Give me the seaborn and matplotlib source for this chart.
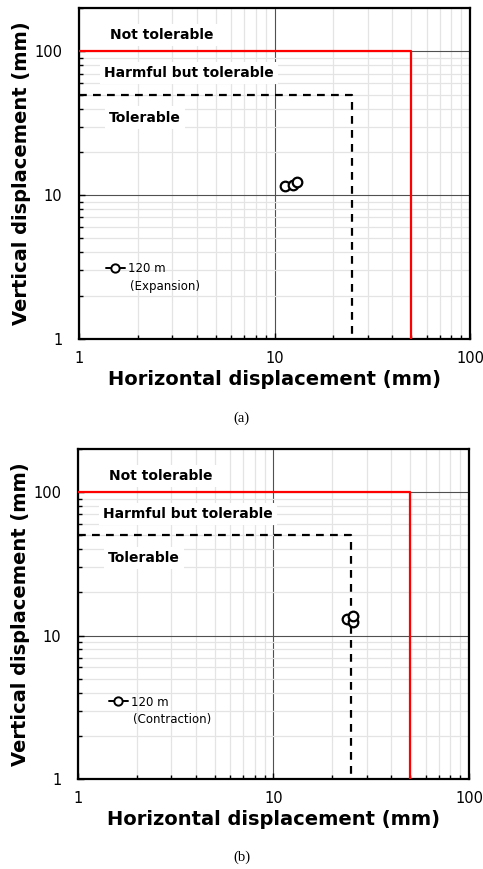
import matplotlib
matplotlib.use("Agg")
import matplotlib.pyplot as plt
import seaborn as sns
import numpy as np
import pandas as pd
from matplotlib.lines import Line2D
from matplotlib.ticker import LogLocator, NullFormatter, FixedLocator, FixedFormatter

# ---------------- data ----------------
exp_horizontal = [11.3, 12.5, 13.0]
exp_vertical = [11.5, 11.8, 12.3]
con_horizontal = [23.8, 25.5, 25.5]
con_vertical = [13.0, 12.4, 13.7]

not_tol_x = [1, 50, 50]
not_tol_y = [100, 100, 1]
tol_x = [1, 25, 25]
tol_y = [50, 50, 1]

major_ticks = [1, 10, 100]
major_labels = ["1", "10", "100"]
zone_labels = ["Not tolerable", "Harmful but tolerable", "Tolerable"]
series_label = "120 m"
panel_cases = ["(Expansion)", "(Contraction)"]
captions = ["(a)", "(b)"]

sns.set_style("white")
plt.rcParams["font.family"] = ["DejaVu Sans"]
plt.rcParams["text.color"] = "black"
plt.rcParams["axes.labelcolor"] = "black"
plt.rcParams["xtick.color"] = "black"
plt.rcParams["ytick.color"] = "black"

fig = plt.figure(figsize=(4.83, 8.69), dpi=100)
ax_a = fig.add_axes([0.1636, 0.6099, 0.8095, 0.3809])
ax_b = fig.add_axes([0.1615, 0.1036, 0.8095, 0.3797])

panels = [
    (ax_a, exp_horizontal, exp_vertical, panel_cases[0], captions[0],
     (0.069, 0.214), (0.13, 0.160), 0.519),
    (ax_b, con_horizontal, con_vertical, panel_cases[1], captions[1],
     (0.079, 0.233), (0.14, 0.179), 0.0135),
]

for ax, hx, vy, case, cap, leg_pos, case_pos, cap_y in panels:
    ax.set_xscale("log")
    ax.set_yscale("log")
    ax.set_xlim(1, 100)
    ax.set_ylim(1, 200)

    # grids
    ax.xaxis.set_major_locator(FixedLocator(major_ticks))
    ax.xaxis.set_major_formatter(FixedFormatter(major_labels))
    ax.yaxis.set_major_locator(FixedLocator(major_ticks))
    ax.yaxis.set_major_formatter(FixedFormatter(major_labels))
    ax.xaxis.set_minor_locator(LogLocator(base=10, subs=np.arange(2, 10), numticks=20))
    ax.yaxis.set_minor_locator(LogLocator(base=10, subs=np.arange(2, 10), numticks=20))
    ax.xaxis.set_minor_formatter(NullFormatter())
    ax.yaxis.set_minor_formatter(NullFormatter())
    ax.grid(True, which="minor", color="#e4e4e4", linewidth=0.9, zorder=0)
    ax.grid(True, which="major", color="#505050", linewidth=0.8, zorder=0)
    ax.set_axisbelow(True)

    ax.tick_params(which="both", direction="in", top=False, right=False,
                   left=True, bottom=True, color="black")
    ax.tick_params(which="major", length=4, width=1.0, labelsize=10.5, pad=9)
    ax.tick_params(which="minor", length=3, width=1.0)
    ax.tick_params(axis="y", which="major", pad=12)
    for s in ax.spines.values():
        s.set_linewidth(1.6)
        s.set_color("black")
        s.set_visible(True)

    # limit lines
    ax.plot(not_tol_x, not_tol_y, color="#ff0000", linewidth=1.6, zorder=3)
    ax.plot(tol_x, tol_y, color="black", linewidth=1.6, linestyle=(0, (3.5, 2.8)), zorder=3)

    # data points
    df = pd.DataFrame({"h": hx, "v": vy})
    sns.scatterplot(data=df, x="h", y="v", ax=ax, marker="o", s=48,
                    facecolor="white", edgecolor="black", linewidth=1.6, zorder=5,
                    legend=False)

    # zone labels
    zone_pos = [(0.079, 0.919), (0.064, 0.803), (0.077, 0.669)]
    for lab, (px, py) in zip(zone_labels, zone_pos):
        ax.text(px, py, lab, transform=ax.transAxes, ha="left", va="center",
                fontsize=10, fontweight="bold", color="black", zorder=4,
                bbox=dict(facecolor="white", edgecolor="none", pad=3))

    # legend
    handle = Line2D([0], [0], color="black", linewidth=1.4, marker="o",
                    markersize=6, markerfacecolor="white", markeredgecolor="black",
                    markeredgewidth=1.4)
    ax.legend([handle], [series_label], loc="center left", bbox_to_anchor=leg_pos,
              frameon=False, borderpad=0, borderaxespad=0, handlelength=1.6,
              handletextpad=0.3, fontsize=8.5)
    ax.text(case_pos[0], case_pos[1], case, transform=ax.transAxes, ha="left",
            va="center", fontsize=8.5)

    ax.set_xlabel("Horizontal displacement (mm)", fontsize=14, fontweight="bold")
    ax.set_ylabel("Vertical displacement (mm)", fontsize=14, fontweight="bold")
    ax.xaxis.set_label_coords(0.5, -0.095)
    ax.yaxis.set_label_coords(-0.122, 0.5)

    fig.text(0.5, cap_y, cap, ha="center", va="center", fontsize=10.5,
             family="Liberation Serif", color="black")

fig.savefig("out.png", dpi=100, facecolor="white")
